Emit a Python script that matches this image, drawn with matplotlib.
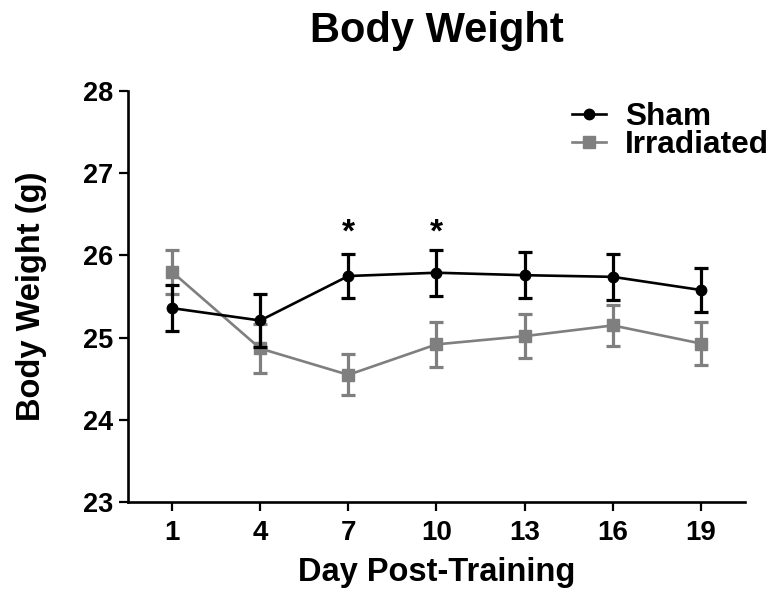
import matplotlib
matplotlib.use("Agg")
import matplotlib.pyplot as plt
from matplotlib.lines import Line2D

# Body weight (g) per group, mean and SEM, by day post-training
days = [1, 4, 7, 10, 13, 16, 19]
day_labels = ["1", "4", "7", "10", "13", "16", "19"]
sham_mean = [25.36, 25.21, 25.75, 25.79, 25.76, 25.74, 25.58]
sham_sem = [0.28, 0.32, 0.27, 0.28, 0.28, 0.28, 0.27]
irr_mean = [25.80, 24.87, 24.55, 24.92, 25.02, 25.15, 24.93]
irr_sem = [0.27, 0.30, 0.25, 0.27, 0.27, 0.25, 0.26]
sig_days = [7, 10]
sig_level = 26.27
y_ticks = [23, 24, 25, 26, 27, 28]

plt.rcParams["font.family"] = ["Liberation Sans", "DejaVu Sans"]
plt.rcParams["font.weight"] = "bold"

fig = plt.figure(figsize=(7.78, 5.95), dpi=100)
ax = fig.add_axes([0.1645, 0.1555, 0.7931, 0.692])

gray = "#7f7f7f"
ax.errorbar(days, irr_mean, yerr=irr_sem, color=gray, marker="s", markersize=8,
            linewidth=1.9, elinewidth=2.3, capsize=5, capthick=2.3, zorder=2)
ax.errorbar(days, sham_mean, yerr=sham_sem, color="black", marker="o", markersize=7.5,
            linewidth=1.9, elinewidth=2.3, capsize=5, capthick=2.3, zorder=3)

for d in sig_days:
    ax.text(d, sig_level, "*", ha="center", va="center", fontsize=24, fontweight="bold")

ax.set_xlim(-0.5, 20.5)
ax.set_ylim(23, 28)
ax.set_xticks(days)
ax.set_xticklabels(day_labels)
ax.set_yticks(y_ticks)

for side in ("top", "right"):
    ax.spines[side].set_visible(False)
for side in ("left", "bottom"):
    ax.spines[side].set_linewidth(1.9)

ax.tick_params(axis="both", direction="out", length=6.5, width=1.6)
ax.tick_params(axis="y", labelsize=19.5, pad=4)
ax.tick_params(axis="x", labelsize=20, pad=6)

ax.set_xlabel("Day Post-Training", fontsize=23.5, fontweight="bold", labelpad=8)
ax.set_ylabel("Body Weight (g)", fontsize=23.5, fontweight="bold", labelpad=26)
ax.set_title("Body Weight", fontsize=30, fontweight="bold", pad=35)

legend_handles = [
    Line2D([], [], color="black", marker="o", markersize=7.5, linewidth=1.9),
    Line2D([], [], color=gray, marker="s", markersize=8, linewidth=1.9),
]
ax.legend(legend_handles, ["Sham", "Irradiated"], loc="upper right",
          bbox_to_anchor=(1.06, 1.004), frameon=False, fontsize=22.8,
          handlelength=1.1, handletextpad=0.6, labelspacing=-0.05,
          borderaxespad=0.0)

fig.savefig("out.png", dpi=100)
